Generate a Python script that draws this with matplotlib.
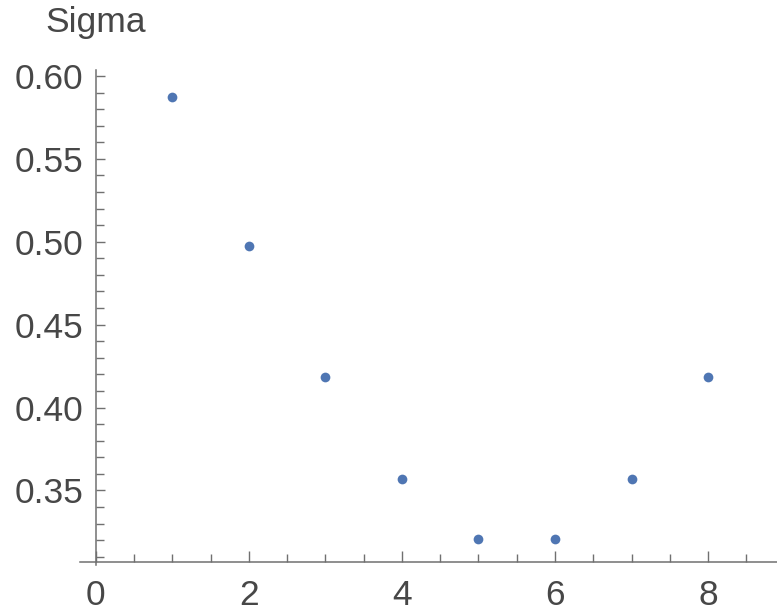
import matplotlib
matplotlib.use('Agg')
import matplotlib.pyplot as plt
import numpy as np
from matplotlib.ticker import MultipleLocator, FormatStrFormatter

# data
n = [1, 2, 3, 4, 5, 6, 7, 8]
sigma = [0.5873, 0.4976, 0.4187, 0.3566, 0.3205, 0.3205, 0.3566, 0.4187]

plt.rcParams['font.family'] = ['Liberation Sans', 'DejaVu Sans']

fig = plt.figure(figsize=(7.77, 6.11), dpi=100)
ax = fig.add_axes([80.4/777, 46/611, 1 - 80.4/777, 495/611])

ax.plot(n, sigma, 'o', color='#4f76b3', markersize=7, markeredgewidth=0)

ax.set_xlim(-0.2, 8.9)
ax.set_ylim(0.305, 0.6036)

axis_col = '#707070'
txt_col = '#474747'
ax.spines['right'].set_visible(False)
ax.spines['top'].set_visible(False)
ax.spines['left'].set_position(('data', 0))
ax.spines['bottom'].set_position(('data', 0.3068))
for s in ['left', 'bottom']:
    ax.spines[s].set_color(axis_col)
    ax.spines[s].set_linewidth(1.1)

ax.xaxis.set_major_locator(MultipleLocator(2))
ax.xaxis.set_minor_locator(MultipleLocator(0.5))
ax.yaxis.set_major_locator(MultipleLocator(0.05))
ax.yaxis.set_minor_locator(MultipleLocator(0.01))
ax.yaxis.set_major_formatter(FormatStrFormatter('%.2f'))

ax.tick_params(axis='x', which='major', direction='in', length=7.7, width=1,
               color=axis_col, labelsize=25.5, labelcolor=txt_col, pad=12)
ax.tick_params(axis='x', which='minor', direction='in', length=5.8, width=1, color=axis_col)
ax.tick_params(axis='y', which='major', direction='in', length=6.5, width=1,
               color=axis_col, labelsize=25.5, labelcolor=txt_col, pad=9)
ax.tick_params(axis='y', which='minor', direction='in', length=6, width=1, color=axis_col)

# axis label above the y axis
fig.text(95.7/777, (611 - 32)/611, 'Sigma', ha='center', va='baseline',
         fontsize=25.5, color=txt_col)

fig.savefig('out.png', dpi=100)
